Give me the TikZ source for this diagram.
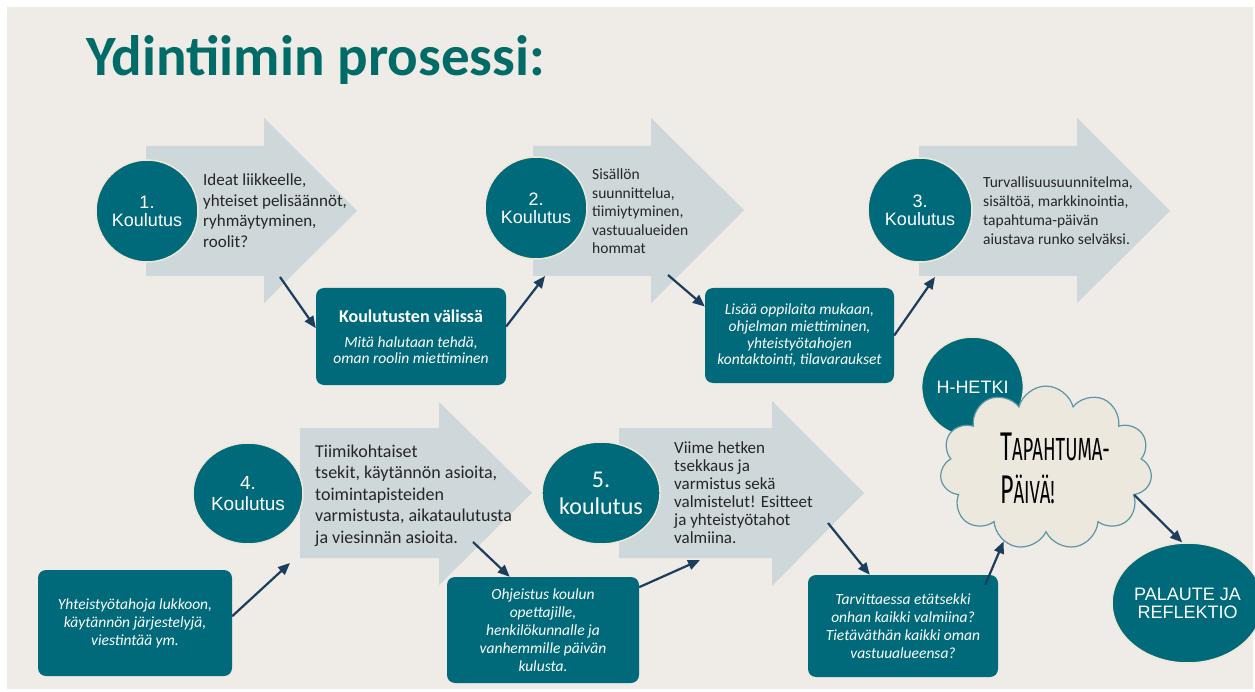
\documentclass[tikz,border=0pt]{standalone}
\usepackage{fontspec}
\setmainfont{Carlito}
\newfontfamily\arialfont{Liberation Sans}
\newfontfamily\cloudfont[FakeStretch=0.58]{Fira Sans}
\usetikzlibrary{shapes.geometric,shapes.symbols,arrows.meta,positioning}

\definecolor{slidebg}{RGB}{239,235,231}
\definecolor{tealbox}{RGB}{0,106,122}
\definecolor{titleteal}{RGB}{0,107,103}
\definecolor{chevgrey}{RGB}{206,215,218}
\definecolor{linkblue}{RGB}{26,62,92}
\definecolor{ringcream}{RGB}{240,232,214}
\definecolor{cloudfill}{RGB}{236,232,222}
\definecolor{cloudline}{RGB}{92,150,166}

\begin{document}
\begin{tikzpicture}[x=1pt, y=-1pt,
    stage/.style={ellipse, fill=tealbox, draw=ringcream, line width=1.5pt, text=white, align=center, inner sep=0pt, font=\arialfont\fontsize{18}{18}\selectfont},
    chev/.style={fill=chevgrey},
    stagetext/.style={anchor=base west, align=left, inner sep=0pt, text=black!85},
    notebox/.style={rectangle, rounded corners=8pt, fill=tealbox, text=white, align=center, inner sep=0pt, font=\itshape\fontsize{15.5}{18}\selectfont},
    link/.style={-{Triangle[length=12pt,width=10pt]}, line width=2.2pt, draw=linkblue}
]

% Slide
\useasboundingbox (0,0) rectangle (1255,692);
\fill[white] (0,0) rectangle (1255,692);
\fill[slidebg] (7,7) rectangle (1253,689);

% Title
\node[anchor=base west, inner sep=0pt, text=titleteal, font=\bfseries\fontsize{57}{57}\selectfont] (title) at (86,76) {Ydintiimin prosessi:};

% Chevrons
\fill[chev] (146,146) -- (264,146) -- (264,118) -- (357,211) -- (264,303) -- (264,276) -- (146,276) -- cycle;
\fill[chev] (533,146) -- (651,146) -- (651,118) -- (744,210) -- (651,303) -- (651,276) -- (533,276) -- cycle;
\fill[chev] (919,146) -- (1077,146) -- (1077,118) -- (1170,211) -- (1077,303) -- (1077,276) -- (919,276) -- cycle;
\fill[chev] (300,428) -- (439,428) -- (439,402) -- (532,493) -- (439,585) -- (439,558) -- (300,558) -- cycle;
\fill[chev] (619,428) -- (772,428) -- (772,401) -- (864,493) -- (772,586) -- (772,558) -- (619,558) -- cycle;

\coordinate (ch1out) at (280,277);
\coordinate (ch2in) at (545,276);
\coordinate (ch2out) at (668,275);
\coordinate (ch3in) at (935,277);
\coordinate (ch4in) at (290,563);
\coordinate (ch4out) at (473,542);
\coordinate (ch5in) at (700,560);
\coordinate (ch5out) at (828,523);

% Trainings
\node[stage, minimum width=102pt, minimum height=102pt] (k1) at (147,211) {1.\\Koulutus};
\node[stage, minimum width=102pt, minimum height=102pt] (k2) at (536,208) {2.\\Koulutus};
\node[stage, minimum width=104pt, minimum height=104pt] (k3) at (920,210) {3.\\Koulutus};
\node[stage, minimum width=110pt, minimum height=101pt, font=\arialfont\fontsize{19}{21}\selectfont] (k4) at (248,493.5) {4.\\Koulutus};
\node[stage, minimum width=112pt, minimum height=102pt, font=\fontsize{24}{27}\selectfont] (k5) at (601,493) {5.\\koulutus};

% Chevron texts (anchored at last baseline)
\node[stagetext, font=\fontsize{17}{20.5}\selectfont] (txt1) at (203,247.5) {Ideat liikkeelle,\\yhteiset pelisäännöt,\\ryhmäytyminen,\\roolit?};
\node[stagetext, font=\fontsize{15.5}{18.5}\selectfont] (txt2) at (592,254) {Sisällön\\suunnittelua,\\tiimiytyminen,\\vastuualueiden\\hommat};
\node[stagetext, font=\fontsize{15.5}{19}\selectfont] (txt3) at (983,245) {Turvallisuusuunnitelma,\\sisältöä, markkinointia,\\tapahtuma-päivän\\aiustava runko selväksi.};
\node[stagetext, font=\fontsize{18}{21.5}\selectfont] (txt4) at (315,543) {Tiimikohtaiset\\tsekit, käytännön asioita,\\toimintapisteiden\\varmistusta, aikataulutusta\\ja viesinnän asioita.};
\node[stagetext, font=\fontsize{17}{18}\selectfont] (txt5) at (674,543) {Viime hetken\\tsekkaus ja\\varmistus sekä\\valmistelut! Esitteet\\ja yhteistyötahot\\valmiina.};

% Notes between trainings
\node[notebox, minimum width=190pt, minimum height=97pt, font=\itshape\fontsize{15.5}{16}\selectfont] (between) at (411,336.5) {{\upshape\bfseries\fontsize{18}{18}\selectfont Koulutusten välissä}\\[9pt]Mitä halutaan tehdä,\\oman roolin miettiminen};
\node[notebox, minimum width=189pt, minimum height=95pt, font=\itshape\fontsize{15.5}{16.7}\selectfont] (more) at (799.5,335.5) {Lisää oppilaita mukaan,\\ohjelman miettiminen,\\yhteistyötahojen\\kontaktointi, tilavaraukset};
\node[notebox, minimum width=194pt, minimum height=106pt] (partners) at (135,623) {Yhteistyötahoja lukkoon,\\käytännön järjestelyjä,\\viestintää ym.};
\node[notebox, minimum width=192pt, minimum height=106pt] (guide) at (543,630) {Ohjeistus koulun\\opettajille,\\henkilökunnalle ja\\vanhemmille päivän\\kulusta.};
\node[notebox, minimum width=190pt, minimum height=102pt] (check) at (903,626) {Tarvittaessa etätsekki\\onhan kaikki valmiina?\\Tietäväthän kaikki oman\\vastuualueensa?};

% Event day
\node[stage, minimum width=101pt, minimum height=100pt] (hetki) at (972.5,387) {H-HETKI};
\node[cloud, cloud puffs=11, aspect=1.39, minimum width=212pt, minimum height=153pt, fill=cloudfill, draw=cloudline, line width=1.2pt, align=left, inner sep=0pt, font=\cloudfont\fontsize{32}{43}\selectfont] (day) at (1046,468) {\hspace*{18pt}{\fontsize{40}{43}\selectfont T}APAHTUMA-\\\hspace*{18pt}{\fontsize{40}{43}\selectfont P}ÄIVÄ!};
\node[stage, minimum width=128pt, minimum height=120pt] (palaute) at (1187.5,603) {PALAUTE JA\\REFLEKTIO};

% Connectors
\draw[link] (ch1out) -- (between.175);
\draw[link] (between.6) -- (ch2in);
\draw[link] (ch2out) -- (more.163);
\draw[link] (more.east) -- (ch3in);
\draw[link] (partners.4) -- (ch4in);
\draw[link] (ch4out) -- (guide.122);
\draw[link] (guide.24) -- (ch5in);
\draw[link] (ch5out) -- (check.123);
\draw[link] ([xshift=-13pt,yshift=-10pt]check.north east) -- (day.240);
\draw[link] (day.-17) -- (palaute.95);

\end{tikzpicture}
\end{document}
